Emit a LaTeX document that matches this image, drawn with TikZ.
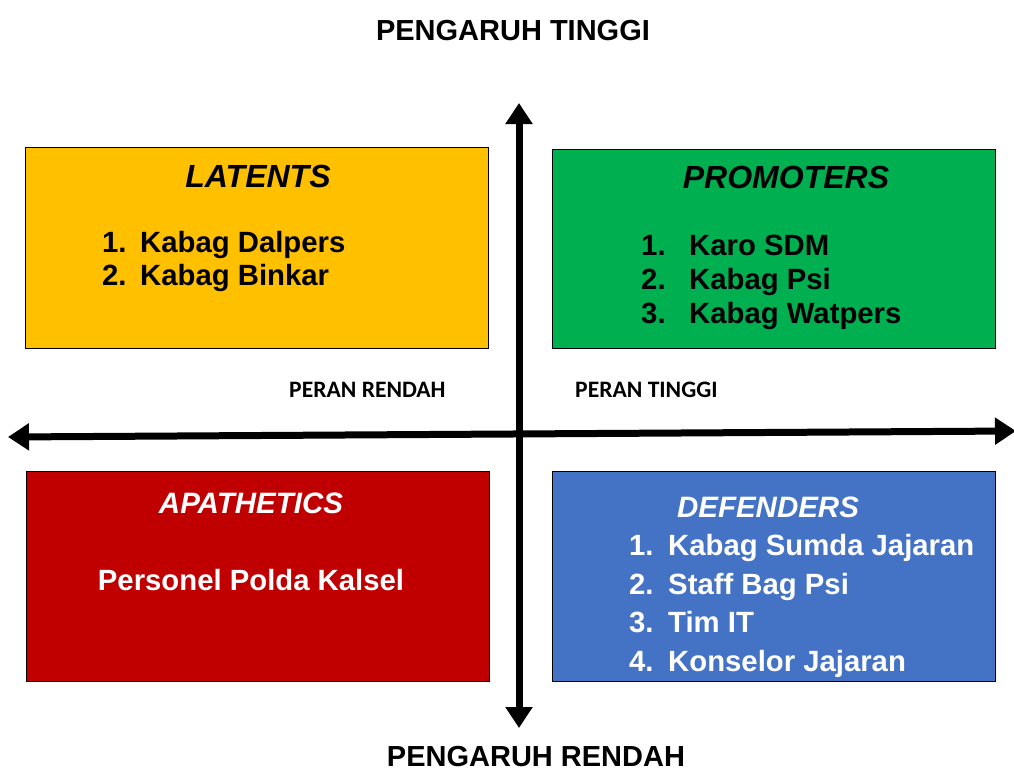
\documentclass[tikz,border=0pt]{standalone}
\usepackage{fontspec}
\setmainfont{Liberation Sans}
\newfontfamily\calibri{Carlito}
\usetikzlibrary{arrows.meta}
\definecolor{cyellow}{HTML}{FFC000}
\definecolor{cgreen}{HTML}{00B050}
\definecolor{cred}{HTML}{C00000}
\definecolor{cblue}{HTML}{4472C4}
\tikzset{
  quad/.style={draw=black, line width=1.3pt, inner sep=0pt},
  ttl/.style={anchor=base, inner sep=0pt, font=\fontsize{32}{36}\selectfont\bfseries\itshape},
  ttls/.style={anchor=base, inner sep=0pt, font=\fontsize{29.5}{34}\selectfont\bfseries\itshape},
  item/.style={anchor=base west, inner sep=0pt, font=\fontsize{29.3}{34}\selectfont\bfseries},
  head/.style={anchor=base, inner sep=0pt, font=\fontsize{29}{34}\selectfont\bfseries},
  peran/.style={anchor=base west, inner sep=0pt, font=\calibri\fontsize{23.6}{26}\selectfont\bfseries},
  axis/.style={line width=7pt, {Triangle[length=21pt,width=26pt]}-{Triangle[length=21pt,width=26pt]}}
}
\begin{document}
\begin{tikzpicture}[x=1pt,y=-1pt]
\useasboundingbox (0,0) rectangle (1014,771);
% quadrants
\node[quad, fill=cyellow, minimum width=463pt, minimum height=201pt, anchor=north west] (lat) at (25,147) {};
\node[quad, fill=cgreen, minimum width=443pt, minimum height=199pt, anchor=north west] (pro) at (552,149) {};
\node[quad, fill=cred, minimum width=463pt, minimum height=210pt, anchor=north west] (apa) at (26,471) {};
\node[quad, fill=cblue, minimum width=443pt, minimum height=210pt, anchor=north west] (def) at (552,471) {};
% axes
\coordinate (ytop) at (519,103);
\coordinate (ybot) at (519,728);
\coordinate (xl) at (8,437);
\coordinate (xr) at (1016,431);
\draw[axis] (ybot) -- (ytop);
\draw[axis] (xl) -- (xr);
% headings
\node[head] (ht) at (513,40) {PENGARUH TINGGI};
\node[head] (hr) at (536,766) {PENGARUH RENDAH};
\node[peran] (pr) at (289,397) {PERAN RENDAH};
\node[peran] (pt) at (575,397) {PERAN TINGGI};
% LATENTS
\node[ttl] (latt) at (258,187) {LATENTS};
\node[item] (l1n) at (102,252) {1.};
\node[item] (l1) at (140,252) {Kabag Dalpers};
\node[item] (l2n) at (102,285) {2.};
\node[item] (l2) at (140,285) {Kabag Binkar};
% PROMOTERS
\node[ttl] (prot) at (786,188) {PROMOTERS};
\node[item] (p1n) at (641,255) {1.};
\node[item] (p1) at (689,255) {Karo SDM};
\node[item] (p2n) at (641,289) {2.};
\node[item] (p2) at (689,289) {Kabag Psi};
\node[item] (p3n) at (641,323) {3.};
\node[item] (p3) at (689,323) {Kabag Watpers};
% APATHETICS
\node[ttls, text=white] (apat) at (251,513) {APATHETICS};
\node[item, text=white, anchor=base] (a1) at (251,590) {Personel Polda Kalsel};
% DEFENDERS
\node[ttls, text=white] (deft) at (768,517) {DEFENDERS};
\node[item, text=white] (d1n) at (629,555) {1.};
\node[item, text=white] (d1) at (668,555) {Kabag Sumda Jajaran};
\node[item, text=white] (d2n) at (629,594) {2.};
\node[item, text=white] (d2) at (668,594) {Staff Bag Psi};
\node[item, text=white] (d3n) at (629,632) {3.};
\node[item, text=white] (d3) at (668,632) {Tim IT};
\node[item, text=white] (d4n) at (629,671) {4.};
\node[item, text=white] (d4) at (668,671) {Konselor Jajaran};
\end{tikzpicture}
\end{document}
